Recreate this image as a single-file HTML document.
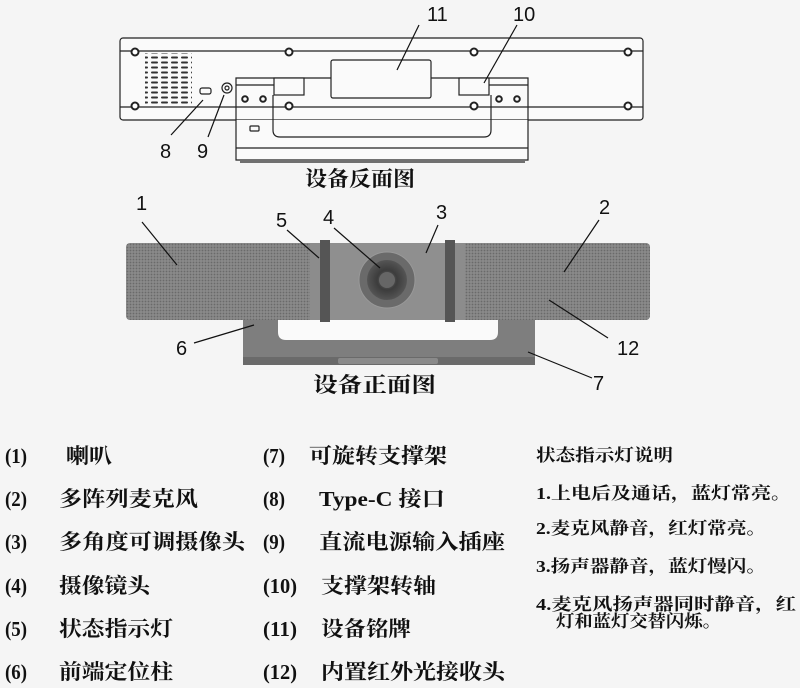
<!DOCTYPE html>
<html><head><meta charset="utf-8"><style>
html,body{margin:0;padding:0;background:#f5f5f5;}
svg{display:block;}
.n{font-family:"Liberation Sans",sans-serif;font-size:20px;fill:#111;}
.t{font-family:"Liberation Serif","Noto Serif CJK SC",serif;font-size:21px;fill:#111;font-weight:bold;}
.s{font-family:"Liberation Serif","Noto Serif CJK SC",serif;font-size:17px;fill:#111;font-weight:bold;}
</style></head><body>
<svg width="800" height="688" viewBox="0 0 800 688" xmlns="http://www.w3.org/2000/svg">
<defs>
<pattern id="mesh" width="3" height="3" patternUnits="userSpaceOnUse">
<rect width="3" height="3" fill="#8a8a8a"/><circle cx="1.5" cy="1.5" r="0.9" fill="#6a6a6a"/>
</pattern>
<pattern id="vent" width="10" height="5" patternUnits="userSpaceOnUse">
<rect x="1" y="1.5" width="7" height="2" rx="1" fill="#333"/>
</pattern>
<radialGradient id="lens" cx="0.5" cy="0.5" r="0.5">
<stop offset="0" stop-color="#777"/><stop offset="0.5" stop-color="#3c3c3c"/><stop offset="1" stop-color="#555"/>
</radialGradient>
</defs>
<rect width="800" height="688" fill="#f5f5f5"/>

<!-- BACK VIEW -->
<g fill="none" stroke="#222" stroke-width="1.2">
<rect x="120" y="38" width="523" height="82" rx="3" fill="#fafafa"/>
<line x1="120" y1="51" x2="643" y2="51"/>
<line x1="120" y1="107" x2="643" y2="107"/>
<rect x="145" y="53" width="47" height="52" fill="url(#vent)" stroke="none"/>
<rect x="200" y="88" width="11" height="6" rx="2"/>
<circle cx="227" cy="88" r="5"/><circle cx="227" cy="88" r="2"/>
<path d="M236 120 H528 V160 H236 Z" fill="#fafafa" stroke="none"/>
<path d="M236 78 H528 V160 H236 Z"/>
<line x1="236" y1="85" x2="274" y2="85"/>
<line x1="489" y1="85" x2="528" y2="85"/>
<line x1="236" y1="148" x2="528" y2="148"/>
<path d="M273 95 V130 Q273 137 280 137 H484 Q491 137 491 130 V95"/>
<rect x="331" y="60" width="100" height="38" rx="2" fill="#fafafa"/>
<rect x="274" y="78" width="30" height="17" fill="#fafafa"/>
<rect x="459" y="78" width="30" height="17" fill="#fafafa"/>
<rect x="250" y="126" width="9" height="5" rx="1"/>
<line x1="240" y1="162" x2="525" y2="162"/>
</g>
<g fill="#fff" stroke="#222" stroke-width="2">
<circle cx="135" cy="52" r="3.5"/><circle cx="289" cy="52" r="3.5"/><circle cx="474" cy="52" r="3.5"/><circle cx="628" cy="52" r="3.5"/>
<circle cx="135" cy="106" r="3.5"/><circle cx="289" cy="106" r="3.5"/><circle cx="474" cy="106" r="3.5"/><circle cx="628" cy="106" r="3.5"/>
<circle cx="245" cy="99" r="2.8"/><circle cx="263" cy="99" r="2.8"/><circle cx="499" cy="99" r="2.8"/><circle cx="517" cy="99" r="2.8"/>
</g>
<g stroke="#111" stroke-width="1.2">
<line x1="419" y1="25" x2="397" y2="70"/>
<line x1="517" y1="25" x2="484" y2="83"/>
<line x1="171" y1="135" x2="203" y2="100"/>
<line x1="208" y1="137" x2="224" y2="95"/>
</g>
<text class="n" x="427" y="21">11</text>
<text class="n" x="513" y="21">10</text>
<text class="n" x="160" y="158">8</text>
<text class="n" x="197" y="158">9</text>
<text class="t" x="305" y="186" textLength="110" lengthAdjust="spacingAndGlyphs">设备反面图</text>

<!-- FRONT VIEW -->
<path d="M243 320 H535 V360 Q535 365 530 365 H248 Q243 365 243 360 Z" fill="#7e7e7e"/>
<rect x="243" y="357" width="292" height="8" fill="#6a6a6a"/>
<rect x="338" y="358" width="100" height="6" rx="2" fill="#8a8a8a"/>
<path d="M278 320 H498 V332 Q498 340 490 340 H286 Q278 340 278 332 Z" fill="#fafafa"/>
<rect x="126" y="243" width="524" height="77" rx="4" fill="url(#mesh)"/>
<rect x="310" y="243" width="155" height="77" fill="#8c8c8c"/>
<rect x="330" y="243" width="115" height="77" fill="#8f8f8f"/>
<rect x="320" y="240" width="10" height="82" fill="#555"/>
<rect x="445" y="240" width="10" height="82" fill="#555"/>
<circle cx="387" cy="280" r="28" fill="#6a6a6a" stroke="#999" stroke-width="1"/>
<circle cx="387" cy="280" r="20" fill="url(#lens)"/>
<circle cx="387" cy="280" r="8" fill="#666"/>
<g stroke="#111" stroke-width="1.2">
<line x1="142" y1="222" x2="177" y2="265"/>
<line x1="287" y1="230" x2="319" y2="258"/>
<line x1="334" y1="228" x2="380" y2="268"/>
<line x1="438" y1="225" x2="426" y2="253"/>
<line x1="599" y1="220" x2="564" y2="272"/>
<line x1="608" y1="338" x2="549" y2="300"/>
<line x1="194" y1="343" x2="254" y2="325"/>
<line x1="592" y1="378" x2="528" y2="352"/>
</g>
<text class="n" x="136" y="210">1</text>
<text class="n" x="276" y="227">5</text>
<text class="n" x="323" y="224">4</text>
<text class="n" x="436" y="219">3</text>
<text class="n" x="599" y="214">2</text>
<text class="n" x="617" y="355">12</text>
<text class="n" x="176" y="355">6</text>
<text class="n" x="593" y="390">7</text>
<text class="t" x="313" y="392" textLength="123" lengthAdjust="spacingAndGlyphs">设备正面图</text>

<!-- LEGEND -->
<g class="t">
<text x="5" y="463" textLength="22" lengthAdjust="spacingAndGlyphs">(1)</text><text x="66" y="463" textLength="46" lengthAdjust="spacingAndGlyphs">喇叭</text>
<text x="5" y="506" textLength="22" lengthAdjust="spacingAndGlyphs">(2)</text><text x="59" y="506" textLength="139" lengthAdjust="spacingAndGlyphs">多阵列麦克风</text>
<text x="5" y="549" textLength="22" lengthAdjust="spacingAndGlyphs">(3)</text><text x="59" y="549" textLength="186" lengthAdjust="spacingAndGlyphs">多角度可调摄像头</text>
<text x="5" y="593" textLength="22" lengthAdjust="spacingAndGlyphs">(4)</text><text x="59" y="593" textLength="91" lengthAdjust="spacingAndGlyphs">摄像镜头</text>
<text x="5" y="636" textLength="22" lengthAdjust="spacingAndGlyphs">(5)</text><text x="59" y="636" textLength="114" lengthAdjust="spacingAndGlyphs">状态指示灯</text>
<text x="5" y="679" textLength="22" lengthAdjust="spacingAndGlyphs">(6)</text><text x="59" y="679" textLength="114" lengthAdjust="spacingAndGlyphs">前端定位柱</text>
<text x="263" y="463" textLength="22" lengthAdjust="spacingAndGlyphs">(7)</text><text x="309" y="463" textLength="138" lengthAdjust="spacingAndGlyphs">可旋转支撑架</text>
<text x="263" y="506" textLength="22" lengthAdjust="spacingAndGlyphs">(8)</text><text x="319" y="506" textLength="126" lengthAdjust="spacingAndGlyphs">Type-C 接口</text>
<text x="263" y="549" textLength="22" lengthAdjust="spacingAndGlyphs">(9)</text><text x="319" y="549" textLength="186" lengthAdjust="spacingAndGlyphs">直流电源输入插座</text>
<text x="263" y="593" textLength="34" lengthAdjust="spacingAndGlyphs">(10)</text><text x="321" y="593" textLength="115" lengthAdjust="spacingAndGlyphs">支撑架转轴</text>
<text x="263" y="636" textLength="34" lengthAdjust="spacingAndGlyphs">(11)</text><text x="321" y="636" textLength="90" lengthAdjust="spacingAndGlyphs">设备铭牌</text>
<text x="263" y="679" textLength="34" lengthAdjust="spacingAndGlyphs">(12)</text><text x="321" y="679" textLength="184" lengthAdjust="spacingAndGlyphs">内置红外光接收头</text>
</g>
<g class="s">
<text x="536" y="461" textLength="137" lengthAdjust="spacingAndGlyphs">状态指示灯说明</text>
<text x="536" y="499" textLength="255" lengthAdjust="spacingAndGlyphs">1.上电后及通话，蓝灯常亮。</text>
<text x="536" y="534" textLength="230" lengthAdjust="spacingAndGlyphs">2.麦克风静音，红灯常亮。</text>
<text x="536" y="572" textLength="230" lengthAdjust="spacingAndGlyphs">3.扬声器静音，蓝灯慢闪。</text>
<text x="536" y="610" textLength="260" lengthAdjust="spacingAndGlyphs">4.麦克风扬声器同时静音，红</text>
<text x="556" y="627" textLength="165" lengthAdjust="spacingAndGlyphs">灯和蓝灯交替闪烁。</text>
</g>
</svg>
</body></html>
